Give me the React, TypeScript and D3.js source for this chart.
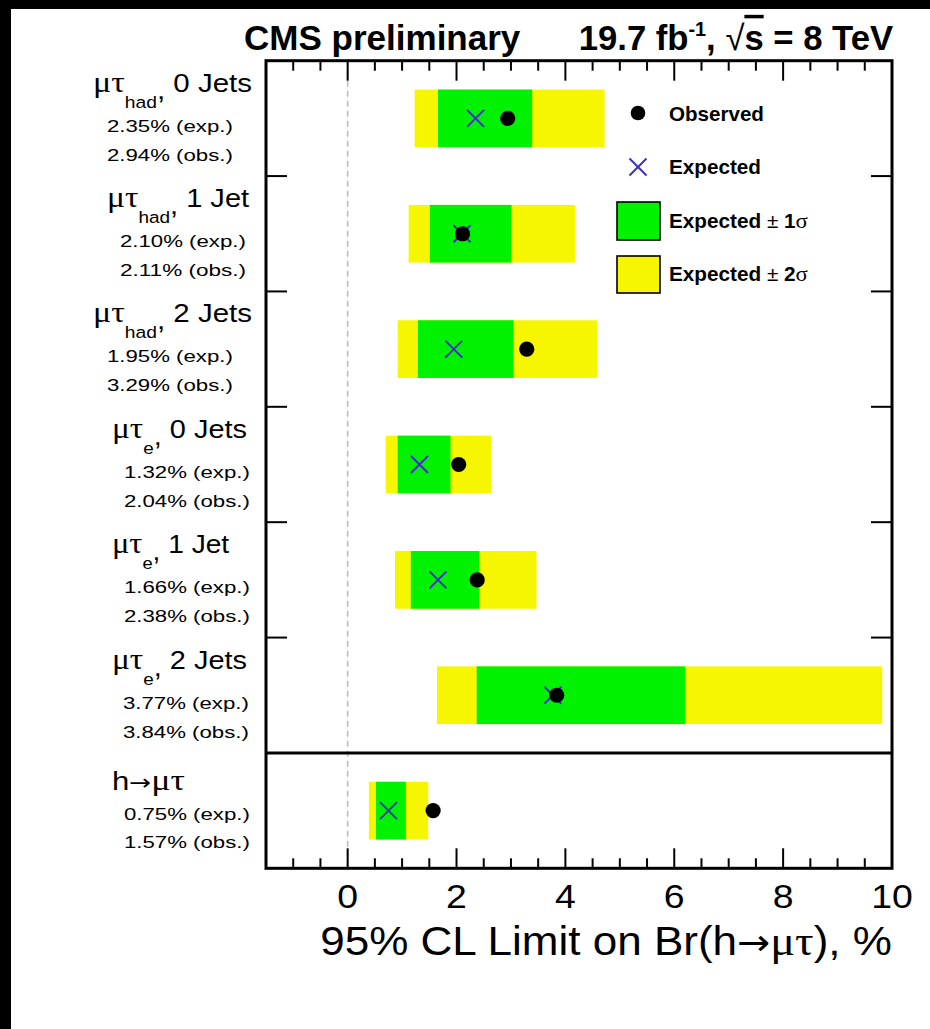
import React, { useLayoutEffect, useRef, useState } from "react";
import * as d3 from "d3";

// ---------- data ----------
const labelBase = ["μτ", "μτ", "μτ", "μτ", "μτ", "μτ", "h→μτ"];
const labelSub = ["had", "had", "had", "e", "e", "e", ""];
const labelJets = ["0 Jets", "1 Jet", "2 Jets", "0 Jets", "1 Jet", "2 Jets", ""];
const expected = [2.35, 2.1, 1.95, 1.32, 1.66, 3.77, 0.75];
const observed = [2.94, 2.11, 3.29, 2.04, 2.38, 3.84, 1.57];
const band1Lo = [1.66, 1.51, 1.29, 0.92, 1.16, 2.37, 0.52];
const band1Hi = [3.39, 3.01, 3.05, 1.89, 2.42, 6.2, 1.07];
const band2Lo = [1.23, 1.12, 0.92, 0.7, 0.87, 1.64, 0.39];
const band2Hi = [4.72, 4.18, 4.58, 2.64, 3.47, 9.82, 1.48];
const xTickLabels = [0, 2, 4, 6, 8, 10];
const legendLabels = ["Observed", "Expected", "Expected ± 1σ", "Expected ± 2σ"];

// ---------- layout ----------
const W = 930;
const H = 1029;
const SANS = "'Liberation Sans', Arial, Helvetica, sans-serif";
const SERIF = "'Liberation Serif', 'DejaVu Serif', serif";
const ARROW = "'DejaVu Sans', sans-serif";
const GREEN = "#00f200";
const YELLOW = "#f6f600";
const BLUE = "#3b30c4";

// per-row label layout (left edge, target widths)
const mainX = [93, 107, 93, 112, 112, 112, 112];
const mainW = [159, 143, 159, 135, 118, 135, 73];
const numX = [107, 120, 107, 124, 124, 123, 124];
const NUM_W = 126;

type FitProps = {
  x: number;
  y: number;
  width?: number;
  sx?: number;
  anchor?: "start" | "middle" | "end";
  fontSize: number;
  fontWeight?: string | number;
  fontFamily?: string;
  fill?: string;
  children: React.ReactNode;
};

function FitText({ x, y, width, sx, anchor = "start", fontSize, fontWeight = "normal", fontFamily = SANS, fill = "#000", children }: FitProps) {
  const ref = useRef<SVGTextElement>(null);
  const [s, setS] = useState(sx ?? 1);
  useLayoutEffect(() => {
    if (ref.current && width) {
      const w = ref.current.getBBox().width;
      if (w > 0) setS(width / w);
    }
  }, [width]);
  return (
    <g transform={`translate(${x},${y}) scale(${s},1)`}>
      <text
        ref={ref}
        x={0}
        y={0}
        textAnchor={anchor}
        fontSize={fontSize}
        fontWeight={fontWeight}
        fontFamily={fontFamily}
        fill={fill}
        style={{ whiteSpace: "pre" }}
      >
        {children}
      </text>
    </g>
  );
}

export default function App() {
  const x = d3.scaleLinear().domain([-1.5, 10]).range([266, 892]);
  const rowY = d3.scaleLinear().domain([0, 7]).range([60.7, 868.3]);
  const [x0, x1] = x.range();
  const yTop = rowY(0);
  const yBot = rowY(7);

  const minorTicks = d3.range(-1, 10, 0.5).filter((v) => Math.abs(v % 2) > 1e-9);
  const majorTicks = [0, 2, 4, 6, 8];

  const rows = d3.range(expected.length);

  const xMark = (cx: number, cy: number, r: number, key?: string) => (
    <g key={key} stroke={BLUE} strokeWidth={2}>
      <line x1={cx - r} y1={cy - r} x2={cx + r} y2={cy + r} />
      <line x1={cx - r} y1={cy + r} x2={cx + r} y2={cy - r} />
    </g>
  );

  return (
    <div>
      <style>{"body{margin:0;background:#000}"}</style>
      <svg width={W} height={H} style={{ display: "block" }}>
        <rect x={0} y={0} width={W} height={H} fill="#000" />
        <rect x={11} y={9} width={W - 11} height={H - 9} fill="#fff" />

        {/* title */}
        <FitText x={244} y={50} width={277} fontSize={35} fontWeight="bold">
          CMS preliminary
        </FitText>
        <FitText x={893} y={50} width={315} anchor="end" fontSize={35} fontWeight="bold">
          <tspan>19.7 fb</tspan>
          <tspan fontSize={20} dy={-14}>-1</tspan>
          <tspan dy={14}>, </tspan>
          <tspan fontWeight="normal">√</tspan>
          <tspan style={{ textDecoration: "overline" }}>s</tspan>
          <tspan> = 8 TeV</tspan>
        </FitText>

        {/* dashed zero line */}
        <line x1={x(0)} x2={x(0)} y1={yTop} y2={yBot} stroke="#bdbdbd" strokeWidth={1.6} strokeDasharray="6,4" />

        {/* bands */}
        {rows.map((i) => (
          <g key={`b${i}`}>
            <rect
              x={x(band2Lo[i])}
              y={rowY(i + 0.25)}
              width={x(band2Hi[i]) - x(band2Lo[i])}
              height={rowY(i + 0.75) - rowY(i + 0.25)}
              fill={YELLOW}
            />
            <rect
              x={x(band1Lo[i])}
              y={rowY(i + 0.25)}
              width={x(band1Hi[i]) - x(band1Lo[i])}
              height={rowY(i + 0.75) - rowY(i + 0.25)}
              fill={GREEN}
            />
          </g>
        ))}

        {/* markers */}
        {rows.map((i) => xMark(x(expected[i]), rowY(i + 0.5), 8.5, `e${i}`))}
        {rows.map((i) => (
          <circle key={`o${i}`} cx={x(observed[i])} cy={rowY(i + 0.5)} r={7.6} fill="#000" />
        ))}

        {/* legend */}
        <circle cx={638} cy={113} r={7.3} fill="#000" />
        {xMark(638, 167, 8.5)}
        <rect x={617} y={202} width={43} height={38} fill={GREEN} stroke="#000" strokeWidth={1.6} />
        <rect x={617} y={256} width={43} height={37} fill={YELLOW} stroke="#000" strokeWidth={1.6} />
        <FitText x={669} y={121} width={95} fontSize={20} fontWeight="bold">
          {legendLabels[0]}
        </FitText>
        <FitText x={669} y={174} width={92} fontSize={20} fontWeight="bold">
          {legendLabels[1]}
        </FitText>
        {[2, 3].map((k, j) => {
          const parts = legendLabels[k].split(" ± ");
          return (
            <FitText key={`lg${k}`} x={669} y={228 + j * 53} width={139} fontSize={20} fontWeight="bold">
              <tspan>{parts[0]}</tspan>
              <tspan fontWeight="normal"> ± </tspan>
              <tspan>{parts[1].slice(0, 1)}</tspan>
              <tspan fontWeight="normal" fontFamily={SERIF} fontSize={22}>{parts[1].slice(1)}</tspan>
            </FitText>
          );
        })}

        {/* frame */}
        <rect x={x0} y={yTop} width={x1 - x0} height={yBot - yTop} fill="none" stroke="#000" strokeWidth={3} />
        <line x1={x0} x2={x1} y1={rowY(6)} y2={rowY(6)} stroke="#000" strokeWidth={3} />
        {/* y ticks */}
        {d3.range(1, 6).map((k) => (
          <g key={`yt${k}`} stroke="#000" strokeWidth={2}>
            <line x1={x0} x2={x0 + 21} y1={rowY(k)} y2={rowY(k)} />
            <line x1={x1 - 21} x2={x1} y1={rowY(k)} y2={rowY(k)} />
          </g>
        ))}
        {/* x ticks */}
        {minorTicks.map((v) => (
          <g key={`mt${v}`} stroke="#000" strokeWidth={2}>
            <line x1={x(v)} x2={x(v)} y1={yTop} y2={yTop + 10} />
            <line x1={x(v)} x2={x(v)} y1={yBot} y2={yBot - 10} />
          </g>
        ))}
        {majorTicks.map((v) => (
          <g key={`Mt${v}`} stroke="#000" strokeWidth={2}>
            <line x1={x(v)} x2={x(v)} y1={yTop} y2={yTop + 20} />
            <line x1={x(v)} x2={x(v)} y1={yBot} y2={yBot - 20} />
          </g>
        ))}
        {xTickLabels.map((v) => (
          <FitText key={`tl${v}`} x={x(v)} y={908} sx={1.1} anchor="middle" fontSize={34}>
            {String(v)}
          </FitText>
        ))}
        <FitText x={892} y={955} width={572} anchor="end" fontSize={40}>
          <tspan>95% CL Limit on Br(h</tspan>
          <tspan fontFamily={ARROW} fontSize={36}>→</tspan>
          <tspan fontFamily={SERIF} fontSize={42}>μτ</tspan>
          <tspan>), %</tspan>
        </FitText>

        {/* row labels */}
        {rows.map((i) => {
          const top = rowY(i);
          const last = i === expected.length - 1;
          const b0 = top + (last ? 37 : 31);
          const b1 = top + (last ? 67 : 71);
          const b2 = top + (last ? 95 : 100);
          return (
            <g key={`lab${i}`}>
              {last ? (
                <FitText x={mainX[i]} y={b0} width={mainW[i]} fontSize={26}>
                  <tspan>{labelBase[i].slice(0, 1)}</tspan>
                  <tspan fontFamily={ARROW} fontSize={22}>{labelBase[i].slice(1, 2)}</tspan>
                  <tspan fontFamily={SERIF} fontSize={30}>{labelBase[i].slice(2)}</tspan>
                </FitText>
              ) : (
                <FitText x={mainX[i]} y={b0} width={mainW[i]} fontSize={26}>
                  <tspan fontFamily={SERIF} fontSize={30}>{labelBase[i]}</tspan>
                  <tspan fontSize={17} dy={16}>{labelSub[i]}</tspan>
                  <tspan dy={-9}>,</tspan>
                  <tspan dy={-7}>{" " + labelJets[i]}</tspan>
                </FitText>
              )}
              <FitText x={numX[i]} y={b1} width={NUM_W} fontSize={17}>
                {`${expected[i].toFixed(2)}% (exp.)`}
              </FitText>
              <FitText x={numX[i]} y={b2} width={NUM_W} fontSize={17}>
                {`${observed[i].toFixed(2)}% (obs.)`}
              </FitText>
            </g>
          );
        })}
      </svg>
    </div>
  );
}
